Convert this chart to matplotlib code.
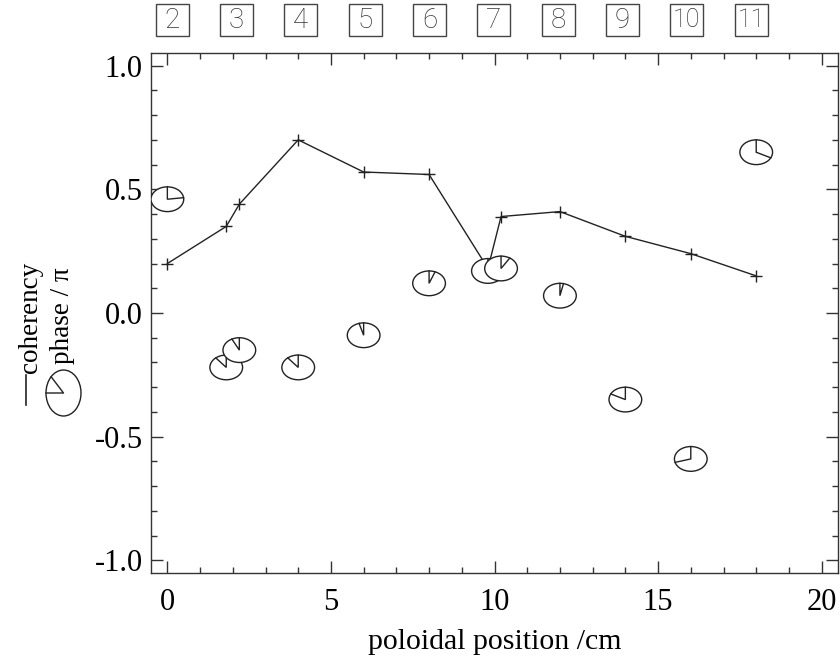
import numpy as np
import matplotlib
matplotlib.use("Agg")
import matplotlib.pyplot as plt
from matplotlib.patches import Ellipse, Rectangle
from matplotlib.ticker import MultipleLocator, FormatStrFormatter
import matplotlib.transforms as mtransforms

# probe positions, coherency and cross-phase (in units of pi)
position_cm = [0.0, 1.8, 2.2, 4.0, 6.0, 8.0, 9.8, 10.2, 12.0, 14.0, 16.0, 18.0]
coherency = [0.20, 0.35, 0.44, 0.70, 0.57, 0.56, 0.18, 0.39, 0.41, 0.31, 0.24, 0.15]
phase_pi = [0.46, -0.22, -0.15, -0.22, -0.09, 0.12, 0.17, 0.18, 0.07, -0.35, -0.59, 0.65]
probe_labels = ["2", "3", "4", "5", "6", "7", "8", "9", "10", "11"]

x_ticks = [0, 5, 10, 15, 20]
y_ticks = [-1.0, -0.5, 0.0, 0.5, 1.0]

plt.rcParams["axes.unicode_minus"] = False
SERIF = ["Liberation Serif", "DejaVu Serif"]
INK = "#222222"

W, H = 840, 662
fig = plt.figure(figsize=(W / 100, H / 100), dpi=100)
ax = fig.add_axes([151 / W, 1 - 572.7 / H, (838 - 151) / W, (572.7 - 53.3) / H])
ax.set_xlim(-0.5, 20.5)
ax.set_ylim(-1.05, 1.05)

# coherency curve
ax.plot(position_cm, coherency, color=INK, lw=1.0, marker="+", ms=8, mew=1.0,
        zorder=2)

# phase glyphs: white ellipse, reference radius to 12 o'clock, phase radius clockwise
rx, ry = 0.5, 0.05
for i, (x, p) in enumerate(zip(position_cm, phase_pi)):
    z = 3 + i
    ax.add_patch(Ellipse((x, p), 2 * rx, 2 * ry, facecolor="white",
                         edgecolor=INK, lw=1.0, zorder=z))
    ang = np.pi * p
    ax.plot([x, x, x + rx * np.sin(ang)], [p + ry, p, p + ry * np.cos(ang)],
            color=INK, lw=1.0, zorder=z + 0.5, solid_joinstyle="miter")

# axes styling
for s in ax.spines.values():
    s.set_color("#333333")
    s.set_linewidth(1.0)
ax.set_xticks(x_ticks)
ax.set_yticks(y_ticks)
ax.xaxis.set_minor_locator(MultipleLocator(1))
ax.yaxis.set_minor_locator(MultipleLocator(0.1))
ax.yaxis.set_major_formatter(FormatStrFormatter("%.1f"))
ax.tick_params(which="both", direction="in", top=True, right=True,
               color="#333333", width=1.0)
ax.tick_params(which="major", length=8.6, labelsize=22)
ax.tick_params(axis="x", which="major", pad=11)
ax.tick_params(axis="y", which="major", pad=6)
ax.tick_params(which="minor", length=4.3)
for lab in ax.get_xticklabels() + ax.get_yticklabels():
    lab.set_family(SERIF)
ax.set_xlabel("poloidal position /cm", family=SERIF, fontsize=21.5, labelpad=9)

# two-line y label with a small phase glyph as legend
YL = 19.5
fig.text(30.5 / W, 1 - 373 / H, "coherency", rotation=90, family=SERIF,
         fontsize=YL, ha="center", va="bottom", color="black")
fig.add_artist(plt.Line2D([26 / W, 26 / W], [1 - 405 / H, 1 - 375 / H],
                          transform=fig.transFigure, color=INK, lw=1.2))
fig.text(62.5 / W, 1 - 364 / H, "phase / \u03c0", rotation=90, family=SERIF,
         fontsize=YL, ha="center", va="bottom", color="black")
icx, icy = 63.5 / W, 1 - 393 / H
erx, ery = 23 / H, 17.5 / W      # along text direction (screen y), across (screen x)
fig.add_artist(Ellipse((icx, icy), 2 * ery, 2 * erx, transform=fig.transFigure,
                       facecolor="none", edgecolor=INK, lw=1.0))
th = 0.25 * np.pi
fig.add_artist(plt.Line2D([icx - ery, icx, icx - ery * np.cos(th)],
                          [icy, icy, icy + erx * np.sin(th)],
                          transform=fig.transFigure, color=INK, lw=1.0))

# boxed probe numbers along the top
blend = mtransforms.blended_transform_factory(ax.transData, fig.transFigure)
centers = 0.15 + 1.966 * np.arange(len(probe_labels))
for c, lab in zip(centers, probe_labels):
    fig.add_artist(Rectangle((c - 0.505, 1 - 35.7 / H), 1.01, 31.7 / H,
                             transform=blend, facecolor="none",
                             edgecolor="#444444", lw=1.0))
    fig.text(c, 1 - 20 / H, lab, transform=blend, ha="center", va="center",
             family=["Roboto", "DejaVu Sans"], fontweight="light",
             fontsize=20 if len(lab) == 1 else 18, color="#333333")

fig.savefig("out.png", dpi=100)
